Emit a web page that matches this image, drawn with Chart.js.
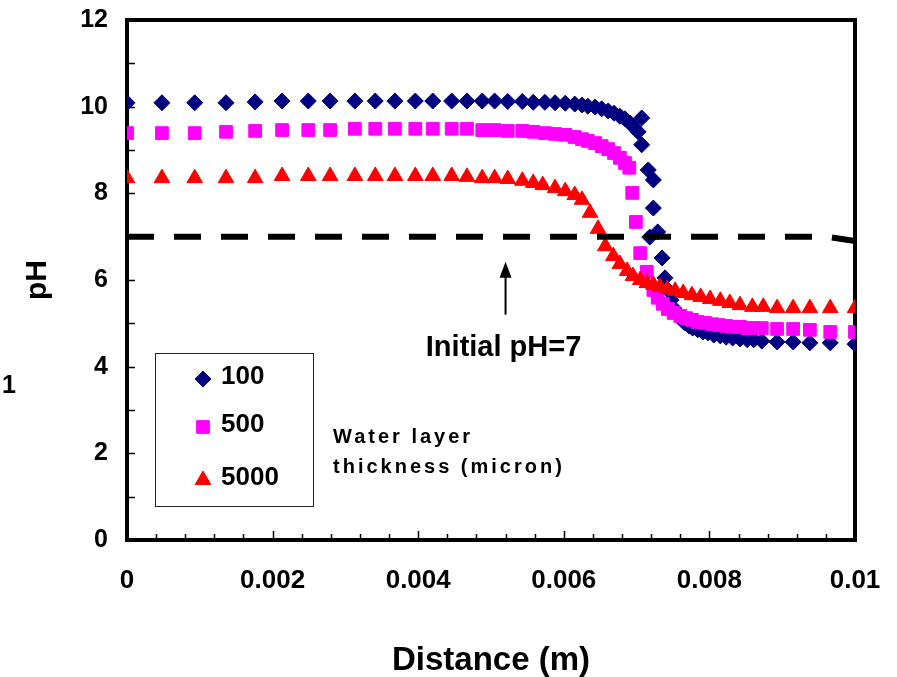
<!DOCTYPE html>
<html>
<head>
<meta charset="utf-8">
<title>pH vs distance</title>
<script src="https://cdn.jsdelivr.net/npm/chart.js@4.4.0/dist/chart.umd.min.js"></script>
<style>
  html, body { margin: 0; padding: 0; background: #fff; }
  #wrap { width: 897px; height: 677px; }
</style>
</head>
<body>
<div id="wrap"><canvas id="phChart" width="897" height="677"></canvas></div>
<script>
// Water layer thickness 100 micron
const xs100 = [0, 0.00048, 0.00093, 0.00136, 0.00176, 0.00213, 0.00249, 0.00279, 0.00313, 0.00341,
  0.00368, 0.00396, 0.0042, 0.00446, 0.00467, 0.00488, 0.00505, 0.00523, 0.00543, 0.00558,
  0.00574, 0.00588, 0.00602, 0.00615, 0.00625, 0.00633, 0.00643, 0.00652, 0.00661, 0.00669,
  0.00677, 0.00684, 0.00691, 0.00696, 0.00702, 0.00707, 0.00707, 0.00716, 0.00723, 0.00723,
  0.00718, 0.00729, 0.00735, 0.00739, 0.00743, 0.00747, 0.00751, 0.00755, 0.00761, 0.00766,
  0.00772, 0.00777, 0.00784, 0.00791, 0.00798, 0.00806, 0.00815, 0.00823, 0.00832, 0.00842,
  0.00852, 0.00861, 0.00872, 0.00893, 0.00915, 0.00938, 0.00966, 0.01];
const ph100 = [10.09, 10.09, 10.09, 10.09, 10.11, 10.13, 10.13, 10.13, 10.13, 10.13,
  10.13, 10.13, 10.13, 10.13, 10.13, 10.13, 10.13, 10.12, 10.12, 10.1,
  10.1, 10.09, 10.08, 10.06, 10.04, 10.01, 9.99, 9.95, 9.9, 9.85,
  9.78, 9.72, 9.62, 9.53, 9.42, 9.74, 9.12, 8.54, 8.31, 7.66,
  6.99, 7.11, 6.51, 6.05, 5.77, 5.54, 5.35, 5.22, 5.1, 5.01,
  4.94, 4.89, 4.85, 4.8, 4.78, 4.73, 4.71, 4.68, 4.66, 4.64,
  4.62, 4.62, 4.59, 4.57, 4.57, 4.55, 4.55, 4.52];

// Water layer thickness 500 micron
const xs500 = [0, 0.00048, 0.00093, 0.00136, 0.00176, 0.00213, 0.00249, 0.00279, 0.00313, 0.00341,
  0.00368, 0.00396, 0.0042, 0.00446, 0.00467, 0.00488, 0.00505, 0.00523, 0.00543, 0.00558,
  0.00574, 0.00588, 0.00602, 0.00615, 0.00625, 0.00633, 0.00643, 0.00652, 0.00661, 0.00669,
  0.00677, 0.00684, 0.0069, 0.00694, 0.00699, 0.00705, 0.00714, 0.00723, 0.00729, 0.00736,
  0.00743, 0.00751, 0.0076, 0.00768, 0.00776, 0.00784, 0.00794, 0.00804, 0.00813, 0.00823,
  0.00832, 0.00842, 0.00852, 0.00861, 0.00872, 0.00893, 0.00915, 0.00938, 0.00966, 0.01];
const ph500 = [9.39, 9.39, 9.39, 9.42, 9.44, 9.46, 9.46, 9.46, 9.49, 9.49,
  9.49, 9.49, 9.49, 9.49, 9.49, 9.46, 9.46, 9.44, 9.44, 9.42,
  9.39, 9.37, 9.35, 9.3, 9.25, 9.21, 9.16, 9.09, 9.02, 8.93,
  8.82, 8.7, 8.59, 8.01, 7.34, 6.62, 6.19, 5.77, 5.59, 5.45,
  5.33, 5.24, 5.17, 5.12, 5.08, 5.03, 5.01, 4.98, 4.96, 4.94,
  4.92, 4.92, 4.89, 4.89, 4.89, 4.87, 4.87, 4.85, 4.8, 4.8];

// Water layer thickness 5000 micron
const xs5000 = [0, 0.00048, 0.00093, 0.00136, 0.00176, 0.00213, 0.00249, 0.00279, 0.00313, 0.00341,
  0.00368, 0.00396, 0.0042, 0.00446, 0.00467, 0.00488, 0.00505, 0.00523, 0.00543, 0.00558,
  0.00571, 0.00588, 0.00602, 0.00615, 0.00625, 0.00636, 0.00647, 0.00657, 0.00668, 0.00677,
  0.00687, 0.00695, 0.00705, 0.00714, 0.00723, 0.00732, 0.00742, 0.00753, 0.00764, 0.00776,
  0.00788, 0.00801, 0.00815, 0.00828, 0.00842, 0.00859, 0.00874, 0.00893, 0.00915, 0.00938,
  0.00966, 0.01];
const ph5000 = [8.35, 8.35, 8.35, 8.35, 8.35, 8.4, 8.4, 8.4, 8.4, 8.4,
  8.4, 8.4, 8.4, 8.4, 8.38, 8.35, 8.35, 8.33, 8.29, 8.24,
  8.19, 8.12, 8.05, 7.96, 7.85, 7.55, 7.18, 6.78, 6.55, 6.37,
  6.21, 6.09, 6.0, 5.93, 5.89, 5.84, 5.79, 5.75, 5.7, 5.65,
  5.61, 5.56, 5.52, 5.47, 5.42, 5.38, 5.38, 5.35, 5.35, 5.35,
  5.35, 5.35];

// initial pH line
const initX = [0, 0.0096, 0.01];
const initY = [7, 7, 6.9];

const seriesNames = ['100', '500', '5000'];
const xTickLabels = ['0', '0.002', '0.004', '0.006', '0.008', '0.01'];
const yTickLabels = ['0', '2', '4', '6', '8', '10', '12'];

const BOLD = '"Liberation Sans", Arial, sans-serif';

function toPoints(xs, ys) {
  return xs.map((x, i) => ({ x: x, y: ys[i] }));
}

// box, inward ticks
const frameTicks = {
  id: 'frameTicks',
  beforeDatasetsDraw(chart) {
    const { ctx, chartArea: a, scales } = chart;
    ctx.save();
    ctx.strokeStyle = '#000';
    ctx.lineWidth = 1.5;
    scales.x.ticks.forEach((t, i) => {
      const px = Math.round(scales.x.getPixelForValue(t.value)) + 0.5;
      const len = i % 5 === 0 ? 9 : 6;
      ctx.beginPath();
      ctx.moveTo(px, a.bottom);
      ctx.lineTo(px, a.bottom - len);
      ctx.stroke();
    });
    scales.y.ticks.forEach(t => {
      const py = Math.round(scales.y.getPixelForValue(t.value)) + 0.5;
      ctx.beginPath();
      ctx.moveTo(a.left, py);
      ctx.lineTo(a.left + 8, py);
      ctx.stroke();
    });
    ctx.lineWidth = 4;
    ctx.strokeRect(a.left, a.top, a.right - a.left, a.bottom - a.top);
    ctx.restore();
  }
};

// arrow, notes and legend box
const notes = {
  id: 'notes',
  afterDatasetsDraw(chart) {
    const { ctx, scales } = chart;
    const ax = scales.x.getPixelForValue(0.0052);
    const yBase = scales.y.getPixelForValue(5.2);
    const yTip = scales.y.getPixelForValue(6.42);
    ctx.save();
    ctx.strokeStyle = '#000';
    ctx.fillStyle = '#000';
    ctx.lineWidth = 2;
    ctx.beginPath();
    ctx.moveTo(ax, yBase);
    ctx.lineTo(ax, yTip + 10);
    ctx.stroke();
    ctx.beginPath();
    ctx.moveTo(ax, yTip);
    ctx.lineTo(ax - 6, yTip + 16);
    ctx.lineTo(ax + 6, yTip + 16);
    ctx.closePath();
    ctx.fill();

    ctx.textBaseline = 'middle';
    ctx.textAlign = 'center';
    ctx.font = 'bold 29px ' + BOLD;
    ctx.fillText('Initial pH=7', ax - 2, scales.y.getPixelForValue(4.43));

    ctx.textAlign = 'left';
    ctx.font = 'bold 20px ' + BOLD;
    ctx.letterSpacing = '3px';
    ctx.fillText('Water layer', 333, 437);
    ctx.fillText('thickness (micron)', 333, 467);
    ctx.letterSpacing = '0px';

    ctx.font = 'bold 25px ' + BOLD;
    ctx.fillText('1', 2, 386);

    // legend
    ctx.lineWidth = 1;
    ctx.strokeStyle = '#222';
    ctx.strokeRect(155.5, 353.5, 158, 153);
    const rows = [379, 427, 480];
    ctx.font = 'bold 26px ' + BOLD;
    chart.data.datasets.slice(0, 3).forEach((ds, i) => {
      ctx.fillStyle = ds.backgroundColor;
      ctx.strokeStyle = ds.borderColor;
      Chart.helpers.drawPoint(ctx, {
        pointStyle: ds.pointStyle, radius: ds.pointRadius, rotation: 0, borderWidth: 1
      }, 203, rows[i]);
      ctx.fillStyle = '#000';
      ctx.fillText(seriesNames[i], 221, rows[i] - 2);
    });
    ctx.restore();
  }
};

const ctx = document.getElementById('phChart').getContext('2d');
new Chart(ctx, {
  type: 'scatter',
  data: {
    datasets: [
      {
        label: seriesNames[0],
        data: toPoints(xs100, ph100),
        pointStyle: 'rectRot',
        pointRadius: 8,
        backgroundColor: '#000080',
        borderColor: '#000080',
        borderWidth: 1,
        order: 3
      },
      {
        label: seriesNames[1],
        data: toPoints(xs500, ph500),
        pointStyle: 'rect',
        pointRadius: 9,
        backgroundColor: '#ff00ff',
        borderColor: '#ff00ff',
        borderWidth: 1,
        order: 2
      },
      {
        label: seriesNames[2],
        data: toPoints(xs5000, ph5000),
        pointStyle: 'triangle',
        pointRadius: 9,
        backgroundColor: '#ff0000',
        borderColor: '#ff0000',
        borderWidth: 1,
        order: 1
      },
      {
        label: 'Initial pH',
        data: toPoints(initX, initY),
        showLine: true,
        pointRadius: 0,
        borderColor: '#000',
        borderWidth: 6,
        borderDash: [27, 20],
        borderCapStyle: 'butt',
        order: 0
      }
    ]
  },
  options: {
    responsive: false,
    animation: false,
    layout: { padding: { top: 20, right: 42, left: 0, bottom: 0 } },
    plugins: {
      legend: { display: false },
      tooltip: { enabled: false }
    },
    scales: {
      x: {
        type: 'linear',
        min: 0,
        max: 0.01,
        afterFit: s => { s.height = 137; s.paddingLeft = 0; s.paddingRight = 0; },
        grid: { display: true, drawOnChartArea: false, drawTicks: false },
        border: { display: false },
        ticks: {
          stepSize: 0.0004,
          autoSkip: false,
          maxRotation: 0,
          padding: 25,
          color: '#000',
          font: { family: BOLD, size: 26, weight: 'bold' },
          callback: (v, i) => (i % 5 === 0 ? xTickLabels[i / 5] : '')
        },
        title: {
          display: true,
          text: 'Distance (m)',
          color: '#000',
          font: { family: BOLD, size: 33, weight: 'bold' },
          padding: { top: 0, bottom: -4 }
        }
      },
      y: {
        min: 0,
        max: 12,
        afterFit: s => { s.width = 127; s.paddingTop = 0; s.paddingBottom = 0; },
        grid: { display: true, drawOnChartArea: false, drawTicks: false },
        border: { display: false },
        ticks: {
          stepSize: 1,
          autoSkip: false,
          padding: 19,
          color: '#000',
          font: { family: BOLD, size: 25, weight: 'bold' },
          callback: (v, i) => (i % 2 === 0 ? yTickLabels[i / 2] : '')
        },
        title: {
          display: true,
          text: 'pH',
          color: '#000',
          font: { family: BOLD, size: 30, weight: 'bold' },
          padding: { top: 20, bottom: 0 }
        }
      }
    }
  },
  plugins: [frameTicks, notes]
});
</script>
</body>
</html>
